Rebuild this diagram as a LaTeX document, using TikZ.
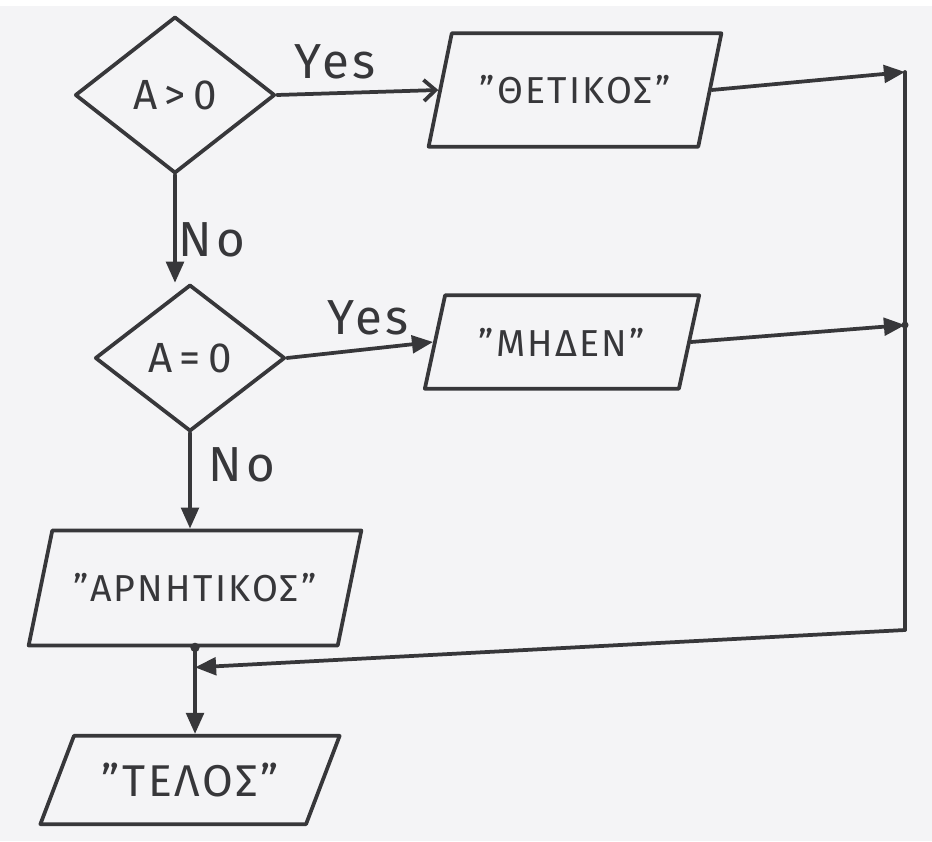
\documentclass[tikz,border=0pt]{standalone}
\usepackage{fontspec}
\setmainfont{Fira Sans}[LetterSpace=6]
\usetikzlibrary{shapes.geometric,arrows.meta}
\definecolor{paper}{RGB}{244,244,246}
\definecolor{ink}{RGB}{55,55,58}
\begin{document}
\begin{tikzpicture}[x=0.03cm,y=-0.03cm,
  line width=3.2pt, draw=ink, text=ink, line cap=round, line join=round,
  dec/.style={diamond, draw, inner sep=0pt, font=\fontsize{36}{42}\selectfont\addfontfeatures{LetterSpace=18}},
  io/.style={trapezium, draw, trapezium stretches=true, inner sep=0pt},
  flow/.style={-{Triangle[length=18pt,width=15pt]}},
  openarrow/.style={-{Straight Barb[length=10pt,width=18pt]}},
  lbl/.style={font=\fontsize{42}{48}\selectfont\addfontfeatures{LetterSpace=8}, text=ink}]
\fill[paper] (0,0) rectangle (932,841);
\fill[white] (0,0) rectangle (932,6);
\useasboundingbox (0,0) rectangle (932,841);

\node[dec, minimum width=6cm, minimum height=4.7cm] (d1) at (175,95) {A>0};
\node[dec, minimum width=5.7cm, minimum height=4.4cm] (d2) at (190,358) {A=0};

\node[io, trapezium left angle=58, trapezium right angle=122, minimum width=8.8cm, minimum height=3.4cm,
  font=\fontsize{32}{38}\selectfont] (p1) at (575,90) {"ΘΕΤΙΚΟΣ"};
\node[io, trapezium left angle=63, trapezium right angle=117, minimum width=8.25cm, minimum height=2.8cm,
  font=\fontsize{32}{38}\selectfont] (p2) at (562,342) {"ΜΗΔΕΝ"};
\node[io, trapezium left angle=55, trapezium right angle=125, minimum width=10cm, minimum height=3.45cm,
  font=\fontsize{32}{38}\selectfont] (p3) at (195,588) {"ΑΡΝΗΤΙΚΟΣ"};
\node[io, trapezium left angle=53, trapezium right angle=127, minimum width=9cm, minimum height=2.65cm,
  font=\fontsize{38}{44}\selectfont] (p4) at (190,780) {"ΤΕΛΟΣ"};

\node[lbl] (y1) at (335,62) {Yes};
\node[lbl] (n1) at (212,240) {No};
\node[lbl] (y2) at (368,318) {Yes};
\node[lbl] (n2) at (242,465) {No};

\coordinate (r1) at (905,72);
\coordinate (r2) at (905,325);
\coordinate (r3) at (905,630);
\path (p3.south) ++(0,20) coordinate (j);

\draw[openarrow] (d1.east) -- (p1.left side);
\draw[flow] (d1.south) -- (d1.south |- d2.north);
\draw[flow] (d2.east) -- (p2.left side);
\draw[flow] (d2.south) -- (d2.south |- p3.north);
\draw[flow] (p1.right side) -- (r1);
\draw[flow] (p2.right side) -- (r2);
\draw (r1) -- (r3);
\draw[flow] (r3) -- (j);
\draw[flow] (p3.south) -- (p3.south |- p4.north);
\fill[ink] (p3.south) circle (4pt);
\fill[ink] (r2) circle (3pt);
\end{tikzpicture}
\end{document}
